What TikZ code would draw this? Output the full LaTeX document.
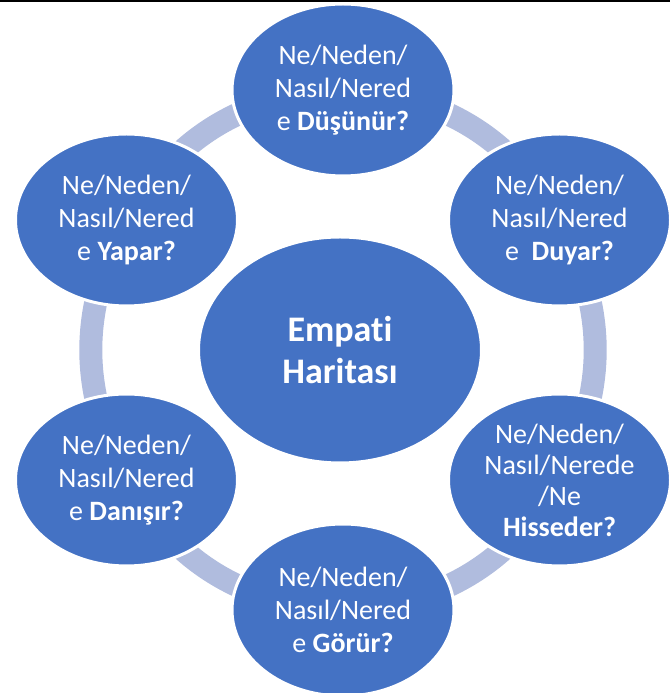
\documentclass[tikz,border=0pt]{standalone}
\usepackage{fontspec}
\setmainfont{Carlito}[Ligatures=NoCommon]
\usetikzlibrary{shapes.geometric, backgrounds}
\definecolor{smartblue}{RGB}{68,114,196}
\definecolor{ringblue}{RGB}{176,188,222}
\tikzset{hub node/.style={ellipse, fill=smartblue, draw=white, line width=3pt, minimum width=283pt, minimum height=226pt, inner sep=0pt, text=white, font=\fontsize{36}{42}\selectfont\bfseries, align=center},
	side node/.style={ellipse, fill=smartblue, draw=white, line width=3pt, minimum width=222pt, minimum height=172pt, inner sep=0pt, text=white, font=\fontsize{28}{33}\selectfont, align=center},
	ring/.style={draw=ringblue, line width=23pt},}

\begin{document}
\begin{tikzpicture}[x=1pt, y=1pt]
			\useasboundingbox (0,0) rectangle (670,693);
			% Top rule
			\draw[line width=2pt] (0,692) -- (670,692);

			% Hub
			\coordinate (mid) at (343,343);
			\node[hub node] (map) at (340,343) {Empati\\Haritası};

			% Satellites
			\node[side node] (think) at ([shift={(90:250pt and 260pt)}]mid) {Ne/Neden/\\Nasıl/Nered\\e \textbf{Düşünür?}};
			\node[side node] (hear) at ([shift={(30:250pt and 260pt)}]mid) {Ne/Neden/\\Nasıl/Nered\\e\ \ \textbf{Duyar?}};
			\node[side node, font=\fontsize{28}{31}\selectfont] (feel) at ([shift={(-30:250pt and 260pt)}]mid) {Ne/Neden/\\Nasıl/Nerede\\/Ne\\\textbf{Hisseder?}};
			\node[side node] (see) at ([shift={(-90:250pt and 260pt)}]mid) {Ne/Neden/\\Nasıl/Nered\\e \textbf{Görür?}};
			\node[side node] (say) at ([shift={(-150:250pt and 260pt)}]mid) {Ne/Neden/\\Nasıl/Nered\\e \textbf{Danışır?}};
			\node[side node] (do) at ([shift={(150:250pt and 260pt)}]mid) {Ne/Neden/\\Nasıl/Nered\\e \textbf{Yapar?}};

			% Ring
			\begin{scope}[on background layer]
			\path[ring]
			(think.center) to[bend left=28] (hear.center)
			to[bend left=28] (feel.center)
			to[bend left=28] (see.center)
			to[bend left=28] (say.center)
			to[bend left=28] (do.center)
			to[bend left=28] (think.center);
			\end{scope}
		\end{tikzpicture}
\end{document}
